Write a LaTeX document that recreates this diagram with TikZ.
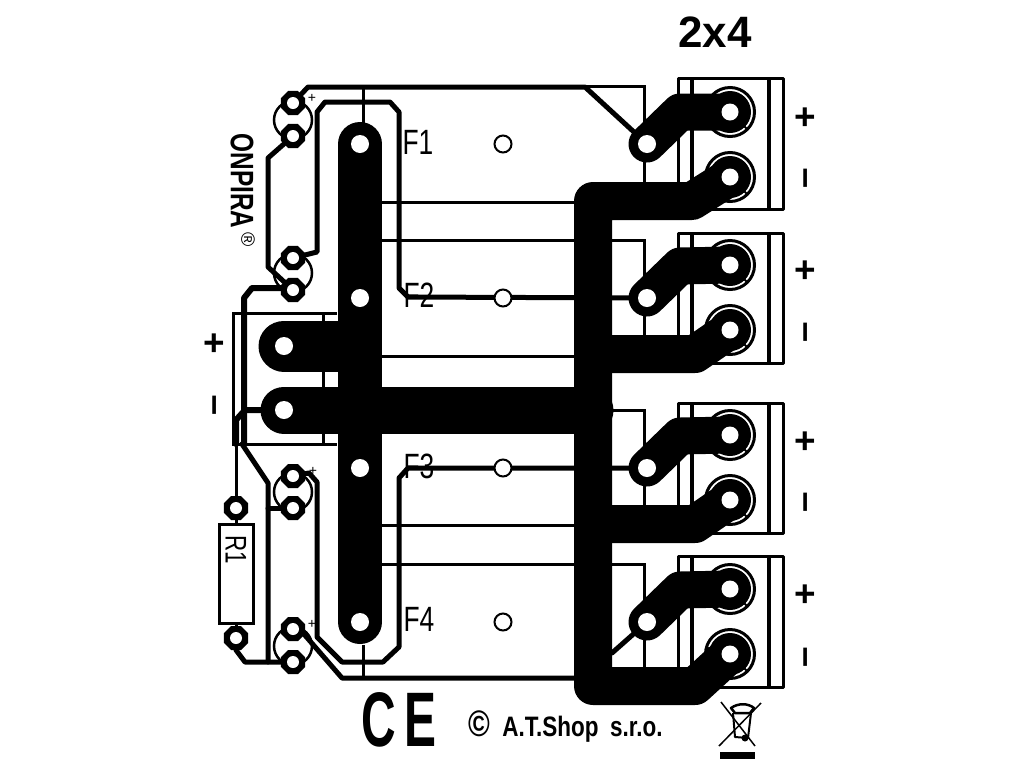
\documentclass[tikz,border=0pt]{standalone}
\usepackage{fontspec}
\setmainfont{Liberation Sans}
\newfontfamily\pcbfont[FakeStretch=0.75]{Liberation Sans}
\newfontfamily\shopfont[FakeStretch=0.8]{Liberation Sans}
\newfontfamily\markfont[FakeStretch=0.62]{Liberation Sans}
\usetikzlibrary{calc, positioning, shapes.geometric}
\newcommand{\pcbu}{0.02cm}
\tikzset{
	thinline/.style={line width=3*\pcbu},
	track/.style={line width=5*\pcbu, line join=round, line cap=round},
	bigtrack/.style={line width=37*\pcbu, line join=round, line cap=round},
	smallpad/.style={regular polygon, regular polygon sides=8, fill=black, inner sep=0pt, minimum size=26*\pcbu},
	smallhole/.style={circle, fill=white, inner sep=0pt, minimum size=12*\pcbu},
	bighole/.style={circle, fill=white, inner sep=0pt, minimum size=18*\pcbu},
	fuseclip/.style={circle, draw, fill=white, line width=2*\pcbu, inner sep=0pt, minimum size=17*\pcbu},
	fuselabel/.style={font=\pcbfont\fontsize{20}{20}\selectfont, inner sep=0pt},
	signlabel/.style={font=\bfseries\fontsize{21}{21}\selectfont, inner sep=0pt}
}
\begin{document}
\begin{tikzpicture}[x=\pcbu, y=-\pcbu]
	\useasboundingbox (0,0) rectangle (1024,768);
	% pads
	\foreach \n/\top/\tu/\tl/\fu in {1/78/112/177/144, 2/233/265/330/298, 3/403/435/500/468, 4/556/589/654/622} {
		\coordinate (tu\n) at (730,\tu);
		\coordinate (tl\n) at (730,\tl);
		\coordinate (fu\n) at (647,\fu);
		\coordinate (bar\n) at (360,\fu);
		\coordinate (clip\n) at (503,\fu);
	}
	\coordinate (q1a) at (293,103);
	\coordinate (q1b) at (293,136);
	\coordinate (q2a) at (293,258);
	\coordinate (q2b) at (293,290);
	\coordinate (q3a) at (293,476);
	\coordinate (q3b) at (293,508);
	\coordinate (q4a) at (293,629);
	\coordinate (q4b) at (293,662);
	\coordinate (r1a) at (236,508);
	\coordinate (r1b) at (236,638);
	\coordinate (in1) at (284,346);
	\coordinate (in2) at (284,410);

	% outlines
	\draw[thinline] (585,86) -- (644,86) -- (644,190);
	\draw[thinline] (381,202) -- (580,202);
	\draw[thinline] (381,240) -- (644,240) -- (644,340);
	\draw[thinline] (381,356) -- (580,356);
	\draw[thinline] (600,410) -- (644,410) -- (644,510);
	\draw[thinline] (381,525) -- (580,525);
	\draw[thinline] (381,564) -- (644,564) -- (644,672);
	\draw[thinline] (363,87) -- (363,125);
	\draw[thinline] (363,645) -- (363,678);
	\draw[thinline] (337,313) -- (233,313) -- (233,444) -- (337,444);
	\draw[thinline] (323,313) -- (323,444);
	\foreach \n/\top/\bot in {1/78/209, 2/233/363, 3/403/533, 4/556/687} {
		\draw[thinline, line join=round] (678,\top) rectangle (783,\bot);
		\draw[line width=4*\pcbu] (692,\top) -- (692,\bot);
		\draw[line width=4*\pcbu] (769,\top) -- (769,\bot);
	}
	\foreach \n in {1,2,3,4} {
		\foreach \p in {tu\n, tl\n} {
			\draw[fill=white, line width=3*\pcbu] (\p) circle (24.5);
			\fill (\p) circle (21);
			\draw[line width=2*\pcbu] (\p) ++(45:20) -- ++(45:4);
		}
		\draw[line width=2*\pcbu] (tl\n) ++(-165:20) -- ++(-165:4);
	}

	% transistors and resistor
	\foreach \c in {120,273,492,646} {
		\draw[line width=2.5*\pcbu] (293,\c) circle (19);
	}
	\draw[thinline] (219,524) rectangle (253,623);
	\draw[thinline] (r1a) -- (236,524);
	\draw[thinline] (r1b) -- (236,623);

	% tracks
	\draw[track] (q1a) -- (308,87) -- (585,87) -- (fu1);
	\draw[track] (q2a) -- (317,252) -- (317,112) -- (325,102) -- (390,102) -- (399,112) -- (399,288) -- (408,297) -- (fu2);
	\draw[track] (q1b) -- (268,158) -- (268,267) -- (q2b);
	\draw[track, line width=6*\pcbu] (q2b) -- (280,288) -- (252,288) -- (244,298) -- (244,444);
	\draw[track, line width=6*\pcbu] (in2) -- (245,410) -- (236,420) -- (236,444);
	\draw[thinline] (236,444) -- (r1a);
	\draw[track] (242,444) -- (268,483) -- (268,662);
	\draw[track] (268,508) -- (q3b);
	\draw[track] (r1b) -- (236,650) -- (245,662) -- (q4b);
	\draw[track] (q3a) -- (309,473) -- (317,482) -- (317,637) -- (342,662) -- (383,662) -- (399,647) -- (399,478) -- (408,468) -- (fu3);
	\draw[track] (q4a) -- (303,633) -- (342,678) -- (580,678);
	\draw[track] (612,653) -- (fu4);

	% power
	\draw[line width=44*\pcbu, line cap=round] (bar1) -- (bar4);
	\draw[line width=51*\pcbu, line cap=round] (in1) -- (338,346);
	\draw[line width=47*\pcbu, line cap=round] (in2) -- (590,410);
	\draw[bigtrack, line width=38*\pcbu] (tl1) -- (692,201) -- (593,201) -- (593,686) -- (695,686) -- (tl4);
	\draw[bigtrack, line width=38*\pcbu] (593,354) -- (695,354) -- (tl2);
	\draw[bigtrack, line width=38*\pcbu] (593,524) -- (695,524) -- (tl3);
	\foreach \n in {1,2,3,4} {
		\draw[bigtrack] (fu\n) -- ++(33,-32) -- (tu\n);
	}

	% drills
	\foreach \n in {1,2,3,4} {
		\node[bighole] (h-bar\n) at (bar\n) {};
		\node[bighole] (h-fu\n) at (fu\n) {};
		\node[bighole, minimum size=17*\pcbu] (h-tu\n) at (tu\n) {};
		\node[bighole, minimum size=17*\pcbu] (h-tl\n) at (tl\n) {};
		\node[fuseclip] (clip-\n) at (clip\n) {};
	}
	\foreach \p in {q1a,q1b,q2a,q2b,q3a,q3b,q4a,q4b,r1a,r1b} {
		\node[smallpad] (pad-\p) at (\p) {};
		\node[smallhole] (hole-\p) at (\p) {};
	}
	\node[bighole] (h-in1) at (in1) {};
	\node[bighole] (h-in2) at (in2) {};

	% labels
	\node[fuselabel] (f1) at (418,142) {F1};
	\node[fuselabel] (f2) at (419,295) {F2};
	\node[fuselabel] (f3) at (419,466) {F3};
	\node[fuselabel] (f4) at (419,619) {F4};
	\node[fuselabel, rotate=-90] (r1) at (236,550) {\fontsize{17}{17}\selectfont R1};
	\node[fuselabel, rotate=-90] (onpira) at (242,181) {\bfseries\fontsize{18.5}{19}\selectfont ONPIRA};
	\node[inner sep=0pt, rotate=-90] (onpirareg) at (248,240) {\fontsize{11}{11}\selectfont ®};
	\node[inner sep=0pt, font=\fontsize{8}{8}\selectfont] (plus1) at (312,98) {+};
	\node[inner sep=0pt, font=\fontsize{8}{8}\selectfont] (plus3) at (313,471) {+};
	\node[inner sep=0pt, font=\fontsize{8}{8}\selectfont] (plus4) at (312,624) {+};
	\node[font=\bfseries\fontsize{25}{25}\selectfont, inner sep=0pt] (title) at (715,32) {2x4};
	\foreach \n/\u/\l in {1/119/178, 2/272/332, 3/443/502, 4/596/657} {
		\node[signlabel] (pos\n) at (805,\u) {+};
		\node[signlabel, rotate=90] (neg\n) at (810,\l) {--};
	}
	\node[signlabel] (posin) at (214,345) {+};
	\node[signlabel, rotate=90] (negin) at (219,405) {--};
	\node[font=\bfseries\markfont\fontsize{44}{44}\selectfont, inner sep=0pt, anchor=west] (ce) at (361,720) {C\hspace{5pt}E};
	\node[font=\bfseries\shopfont\fontsize{16}{16}\selectfont, inner sep=0pt, anchor=west] (shop) at (468,727) {{\fontsize{21}{21}\selectfont ©}\hspace{7pt}A.T.Shop\hspace{3pt} s.r.o.};

	% bin
	\draw[line width=1.5*\pcbu] (721,702) -- (755,746);
	\draw[line width=1.5*\pcbu] (761,703) -- (719,746);
	\draw[line width=2.5*\pcbu, line join=round] (731,708) .. controls (738,703) and (748,703) .. (754,708) -- (750,713) -- (735,713) -- cycle;
	\draw[line width=2*\pcbu, line join=round] (733,713) -- (735,737) -- (748,738) -- (751,713);
	\fill (745,738) circle (3.5);
	\fill (720,752) rectangle (755,759);
\end{tikzpicture}
\end{document}
